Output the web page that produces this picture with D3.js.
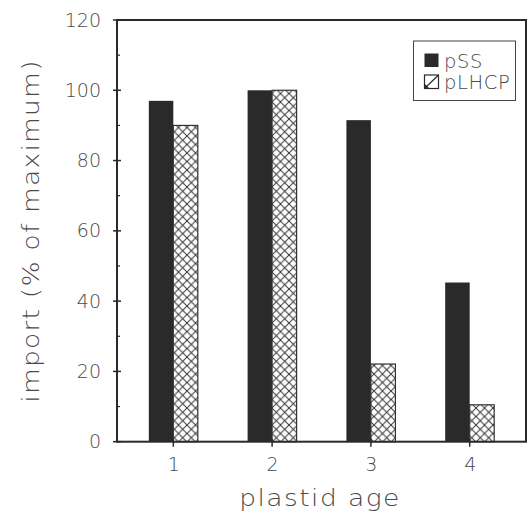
<!DOCTYPE html>
<html><head><meta charset="utf-8">
<script src="https://d3js.org/d3.v7.min.js"></script>
<style>
body{margin:0;background:#fff;}
svg{display:block;}
text{font-family:"DejaVu Sans",sans-serif;font-weight:200;fill:#4a4a4a;}
</style></head>
<body>
<script>
const categories = [1, 2, 3, 4];
const pSS = [97, 100, 91.5, 45.3];
const pLHCP = [90, 100, 22.1, 10.5];
const yTicks = [0, 20, 40, 60, 80, 100, 120];
const yMinor = [10, 30, 50, 70, 90, 110];
const seriesNames = ["pSS", "pLHCP"];

(function(){
const W = 532, H = 514;
const svg = d3.select("body").append("svg").attr("width", W).attr("height", H);
const defs = svg.append("defs");
const pat = defs.append("pattern").attr("id","hatch").attr("patternUnits","userSpaceOnUse")
  .attr("width",8.5).attr("height",8.5);
pat.append("rect").attr("width",8.5).attr("height",8.5).attr("fill","#fff");
pat.append("path").attr("d","M0,0L8.5,8.5M8.5,0L0,8.5").attr("stroke","#333").attr("stroke-width",1);

const L = 117, R = 526, T = 20, B = 441.7;
const x = d3.scaleLinear().domain([0.43, 4.57]).range([L, R]);
const y = d3.scaleLinear().domain([0, 120]).range([B, T]);
const bw = 0.248;

const g = svg.append("g");
g.selectAll(".b1").data(categories).enter().append("rect")
  .attr("x", (d)=>x(d - bw)).attr("width", (d)=>x(d)-x(d-bw))
  .attr("y", (d,i)=>y(pSS[i])).attr("height",(d,i)=>y(0)-y(pSS[i]))
  .attr("fill","#2a2a2a");
g.selectAll(".b2").data(categories).enter().append("rect")
  .attr("x", (d)=>x(d)).attr("width", (d)=>x(d+bw)-x(d))
  .attr("y", (d,i)=>y(pLHCP[i])).attr("height",(d,i)=>y(0)-y(pLHCP[i]))
  .attr("fill","url(#hatch)").attr("stroke","#333").attr("stroke-width",1.2);

g.append("rect").attr("x",L).attr("y",T).attr("width",R-L).attr("height",B-T)
  .attr("fill","none").attr("stroke","#2a2a2a").attr("stroke-width",2);

const yAxis = d3.axisLeft(y).tickValues(yTicks).tickSize(0).tickPadding(16).tickFormat(d3.format("d"));
const ya = svg.append("g").attr("transform",`translate(${L},0)`).call(yAxis);
ya.select(".domain").remove();
ya.selectAll("text").attr("font-size",19).style("font-family","DejaVu Sans").style("font-weight",200).attr("fill","#4a4a4a");
svg.selectAll(".ymaj").data(yTicks).enter().append("line")
  .attr("x1",L-4).attr("x2",L+4).attr("y1",d=>y(d)).attr("y2",d=>y(d)).attr("stroke","#2a2a2a").attr("stroke-width",1.5);
svg.selectAll(".ymin").data(yMinor).enter().append("line")
  .attr("x1",L).attr("x2",L+3).attr("y1",d=>y(d)).attr("y2",d=>y(d)).attr("stroke","#2a2a2a").attr("stroke-width",1.2);

const xAxis = d3.axisBottom(x).tickValues(categories).tickSize(0).tickPadding(16).tickFormat(d3.format("d"));
const xa = svg.append("g").attr("transform",`translate(0,${B})`).call(xAxis);
xa.select(".domain").remove();
xa.selectAll("text").attr("font-size",19).style("font-family","DejaVu Sans").style("font-weight",200).attr("fill","#4a4a4a");
svg.selectAll(".xt").data(categories).enter().append("line")
  .attr("x1",d=>x(d)).attr("x2",d=>x(d)).attr("y1",B-3).attr("y2",B+5).attr("stroke","#2a2a2a").attr("stroke-width",1.5);

svg.append("text").attr("transform","translate(320,506) scale(1.15,1)").attr("text-anchor","middle").attr("font-size",23)
  .attr("letter-spacing",1.3).text("plastid age");
svg.append("text").attr("transform","translate(39,231) rotate(-90) scale(1.15,1)").attr("text-anchor","middle").attr("font-size",23)
  .attr("letter-spacing",1.1).text("import (% of maximum)");

const lg = svg.append("g");
lg.append("rect").attr("x",413.5).attr("y",41).attr("width",102).attr("height",59.5).attr("fill","#fff").attr("stroke","#444").attr("stroke-width",1);
seriesNames.forEach((n,i)=>{
  const yy = 53.5 + i*21.5;
  lg.append("rect").attr("x",424.5).attr("y",yy).attr("width",14).attr("height",13.5)
    .attr("fill", i===0 ? "#2a2a2a" : "#fff").attr("stroke","#2a2a2a").attr("stroke-width", i===0?0:1.2);
  if(i===1){
    lg.append("line").attr("x1",438.5).attr("y1",yy).attr("x2",424.5).attr("y2",yy+13.5).attr("stroke","#2a2a2a").attr("stroke-width",1.2);
    lg.append("path").attr("d",`M424.5,${yy+8.5}L429.5,${yy+13.5}L424.5,${yy+13.5}Z`).attr("fill","#2a2a2a");
  }
  lg.append("text").attr("x",444).attr("y",yy+14).attr("font-size",19.5).attr("letter-spacing",0.6).attr("fill","#333").text(n);
});
})();
</script>
</body></html>
